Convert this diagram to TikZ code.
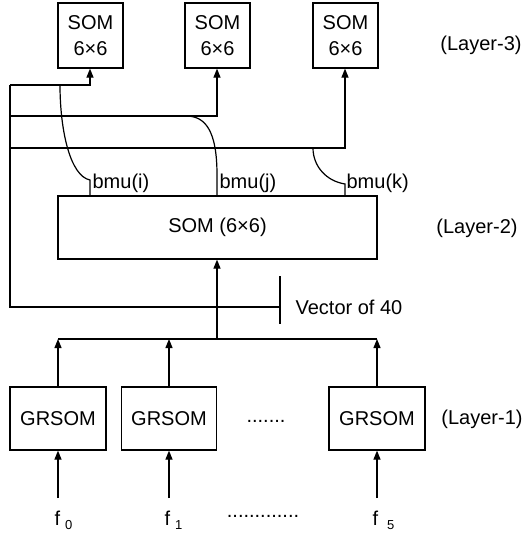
\documentclass[tikz,border=0pt]{standalone}
\usepackage{fontspec}
\setmainfont{Liberation Sans}
\usetikzlibrary{arrows.meta}
\begin{document}
\begin{tikzpicture}[x=1pt,y=-1pt,
  line width=1.2pt,
  arr/.style={-{Triangle[length=9pt,width=7pt]}},
  box/.style={draw, inner sep=0pt, align=center, font=\fontsize{20}{26}\selectfont},
  lbl/.style={inner sep=0pt, font=\fontsize{20}{24}\selectfont},
  sub/.style={font=\fontsize{13}{13}\selectfont}
]
\useasboundingbox (0,0) rectangle (525,536);
% Layer 3
\node[box, minimum width=65pt, minimum height=65pt] (s1) at (90.5,35.5) {SOM\\6×6};
\node[box, minimum width=65pt, minimum height=65pt] (s2) at (217.5,35.5) {SOM\\6×6};
\node[box, minimum width=65pt, minimum height=65pt] (s3) at (345.5,35.5) {SOM\\6×6};
\node[lbl] (l3) at (481,45) {(Layer-3)};
% Layer 2
\node[box, minimum width=319pt, minimum height=63pt] (som) at (217.5,227.5) {SOM (6×6)};
\node[lbl] (l2) at (477,228) {(Layer-2)};
% Layer 1
\node[box, minimum width=96pt, minimum height=63pt] (g1) at (58,418.5) {GRSOM};
\node[box, minimum width=95pt, minimum height=63pt] (g2) at (169,418.5) {GRSOM};
\node[box, minimum width=96pt, minimum height=63pt] (g3) at (377,418.5) {GRSOM};
\node[lbl] (d1) at (266,421) {.......};
\node[lbl] (l1) at (482,419) {(Layer-1)};
% inputs
\node[lbl, anchor=base west] (f0) at (54,525) {f\hspace{5pt}\raisebox{-4pt}{\fontsize{13}{13}\selectfont 0}};
\node[lbl, anchor=base west] (f1) at (164,525) {f\hspace{5pt}\raisebox{-4pt}{\fontsize{13}{13}\selectfont 1}};
\node[lbl, anchor=base west] (f5) at (372,525) {f\hspace{9pt}\raisebox{-4pt}{\fontsize{13}{13}\selectfont 5}};
\node[lbl] (d2) at (263,516) {.............};
\coordinate (i0) at (58,498);
\coordinate (i1) at (169,498);
\coordinate (i5) at (377,498);
\draw[arr] (i0) -- (g1.south);
\draw[arr] (i1) -- (g2.south);
\draw[arr] (i5) -- (g3.south);
% bus from layer 1 to layer 2
\coordinate (bl) at (58,339);
\coordinate (bm) at (217,339);
\coordinate (br) at (377,339);
\draw (bl) -- (br);
\draw[arr] (g1.north) -- (bl);
\draw[arr] (g2.north) -- (bl -| g2.north);
\draw[arr] (g3.north) -- (br);
\draw[arr] (bm) -- (som.south -| bm);
% vector of 40
\coordinate (v0) at (10,307);
\coordinate (v1) at (280,307);
\coordinate (t1) at (280,276);
\coordinate (t2) at (280,324);
\node[lbl, anchor=west] (vec) at (295,307) {Vector of 40};
\draw (t1) -- (t2);
\coordinate (c1) at (10,85);
\coordinate (c2) at (10,116);
\coordinate (c3) at (10,148);
\draw (v1) -- (v0) -- (c1);
\draw[arr] (c1) -- (90,85) -- (s1.south -| 90,85);
\draw[arr] (c2) -- (217,116) -- (s2.south -| 217,116);
\draw[arr] (c3) -- (345,148) -- (s3.south -| 345,148);
% bmu outputs
\node[lbl, anchor=base west] (bi) at (92,188) {bmu(i)};
\node[lbl, anchor=base west] (bj) at (219,188) {bmu(j)};
\node[lbl, anchor=base west] (bk) at (346,188) {bmu(k)};
\draw (90,196) -- (90,180) .. controls (70,176) and (60,130) .. (60,85);
\draw (217,196) -- (217,175) .. controls (217,130) and (205,116) .. (186,116);
\draw (345,196) -- (345,184) .. controls (326,181) and (313,166) .. (313,148);
\end{tikzpicture}
\end{document}
